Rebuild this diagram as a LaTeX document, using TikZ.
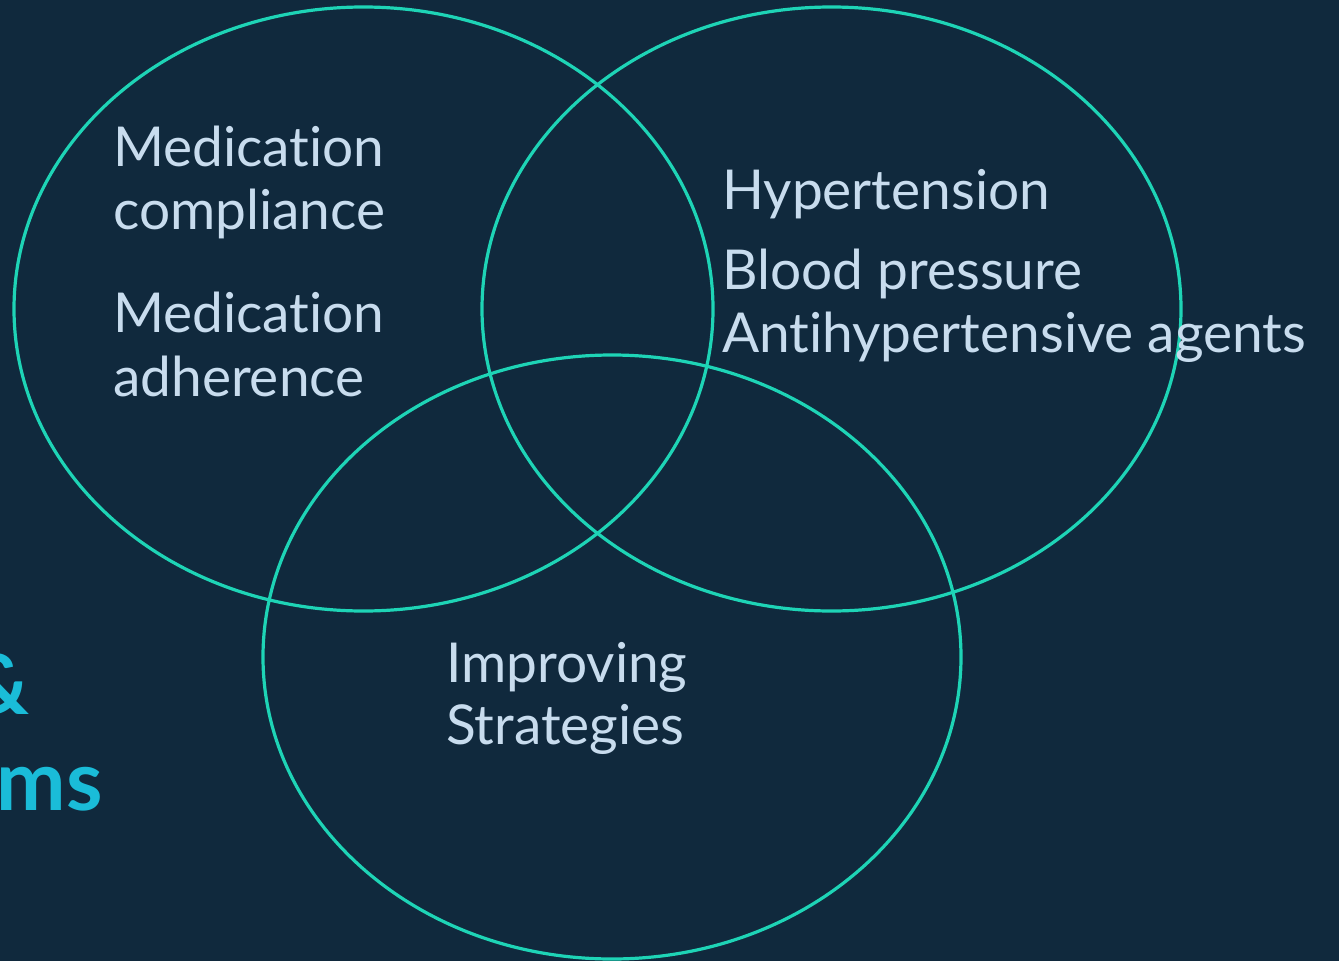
\documentclass[tikz,border=0pt]{standalone}
\usepackage{fontspec}
\setmainfont{Lato}[Ligatures={NoCommon}]
\definecolor{bg}{RGB}{16,41,61}
\definecolor{ring}{RGB}{30,212,182}
\definecolor{txt}{RGB}{200,220,238}
\definecolor{head}{RGB}{26,188,216}
\begin{document}
\begin{tikzpicture}[x=1pt,y=-1pt,
  ringstyle/.style={draw=ring,line width=3.2pt},
  lbl/.style={anchor=base west,inner sep=0pt,text=txt,font=\fontsize{55}{64}\selectfont},
  hd/.style={anchor=base east,inner sep=0pt,text=head,font=\fontsize{83}{96}\selectfont\bfseries}]
\fill[bg] (0,0) rectangle (1339,961);
\useasboundingbox (0,0) rectangle (1339,961);
\begin{scope}
\clip (0,0) rectangle (1339,961);
\draw[ringstyle] (363.5,309) ellipse [x radius=349.5,y radius=302];
\draw[ringstyle] (831.5,309) ellipse [x radius=349.5,y radius=302];
\draw[ringstyle] (612,657) ellipse [x radius=349,y radius=302];
\node[lbl] (m1) at (113,166) {Medication};
\node[lbl] (m2) at (113,229) {compliance};
\node[lbl] (m3) at (113,332) {Medication};
\node[lbl] (m4) at (113,396) {adherence};
\node[lbl] (h1) at (722,209) {Hypertension};
\node[lbl] (h2) at (722,289) {Blood pressure};
\node[lbl] (h3) at (722,352) {Antihypertensive agents};
\node[lbl] (s1) at (446,682) {Improving};
\node[lbl] (s2) at (446,744) {Strategies};
\node[hd] (amp) at (30,714) {\&};
\node[hd] (ms) at (103,810) {ms};
\end{scope}
\end{tikzpicture}
\end{document}
